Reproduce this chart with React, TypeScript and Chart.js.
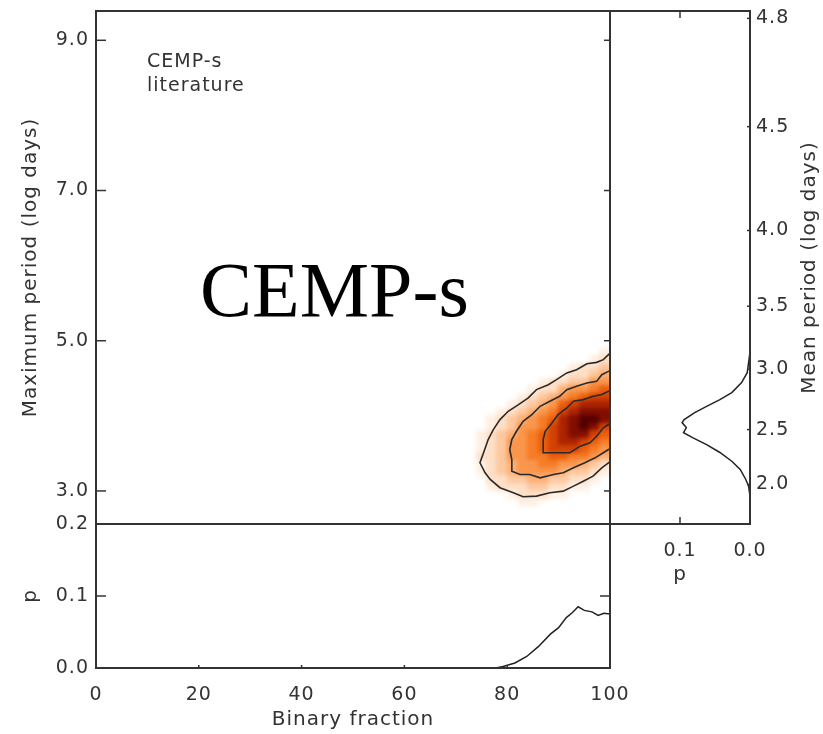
import React, { useEffect, useRef } from 'react';
import { Chart, registerables } from 'chart.js';

Chart.register(...registerables);
Chart.defaults.font.family = '"DejaVu Sans", sans-serif';
Chart.defaults.color = '#333';

const W = 823;
const H = 734;

// ---- axis ticks / labels ----
const maxPeriodTicks = [3, 5, 7, 9];
const maxPeriodRange = [2.56, 9.39];
const meanPeriodTickLabels = ['2.0', '2.5', '3.0', '3.5', '4.0', '4.5', '4.8'];
const meanPeriodTickAtMax = [3.086, 3.817, 4.621, 5.459, 6.468, 7.85, 9.292];
const pTicksRight = [0, 0.1];
const pTicksBottom = [0, 0.1, 0.2];
const fracTicks = [0, 20, 40, 60, 80, 100];

// ---- 2D density (binary fraction x log Pmax), levels 0..11 ----
const heatFrac = [75, 77, 79, 81, 83, 85, 87, 89, 91, 93, 95, 97, 99];
const heatLogP = [4.85, 4.75, 4.65, 4.55, 4.45, 4.35, 4.25, 4.15, 4.05, 3.95, 3.85, 3.75, 3.65, 3.55, 3.45, 3.35, 3.25, 3.15, 3.05, 2.95, 2.85];
const heatLevel = [
  [0, 0, 0, 0, 0, 0, 0, 0, 0, 0, 0, 0, 1],
  [0, 0, 0, 0, 0, 0, 0, 0, 0, 0, 0, 1, 2],
  [0, 0, 0, 0, 0, 0, 0, 0, 0, 1, 2, 2, 3],
  [0, 0, 0, 0, 0, 0, 0, 0, 1, 2, 2, 3, 4],
  [0, 0, 0, 0, 0, 0, 1, 2, 2, 3, 3, 5, 5],
  [0, 0, 0, 0, 0, 1, 2, 2, 4, 5, 5, 6, 7],
  [0, 0, 0, 0, 1, 2, 3, 4, 5, 6, 7, 8, 8],
  [0, 0, 0, 1, 2, 3, 4, 5, 7, 8, 9, 9, 9],
  [0, 0, 1, 2, 3, 4, 5, 6, 8, 9, 10, 10, 10],
  [0, 1, 2, 3, 4, 5, 6, 7, 9, 10, 11, 11, 10],
  [0, 1, 2, 3, 5, 5, 6, 8, 9, 10, 11, 10, 8],
  [1, 2, 3, 4, 5, 6, 7, 8, 9, 10, 10, 8, 7],
  [1, 2, 3, 5, 5, 6, 7, 8, 9, 9, 8, 7, 6],
  [1, 2, 3, 5, 5, 6, 7, 8, 8, 8, 7, 6, 5],
  [2, 2, 3, 5, 5, 6, 6, 7, 7, 6, 6, 5, 4],
  [1, 2, 3, 4, 5, 5, 6, 6, 5, 5, 4, 3, 2],
  [1, 2, 3, 4, 5, 5, 5, 5, 4, 3, 3, 2, 1],
  [0, 2, 2, 3, 3, 4, 4, 3, 3, 2, 2, 1, 0],
  [0, 1, 2, 2, 2, 3, 3, 2, 2, 1, 1, 0, 0],
  [0, 0, 0, 1, 2, 2, 2, 1, 1, 0, 0, 0, 0],
  [0, 0, 0, 0, 1, 1, 0, 0, 0, 0, 0, 0, 0],
];
const heatColors = [
  'rgba(0,0,0,0)', '#fff0e4', '#fedfc6', '#fdc89f', '#fcb077', '#fa964c',
  '#f67c26', '#ea5f0e', '#d24204', '#ac2400', '#820e00', '#550000',
];

// ---- contour lines ----
const outerFrac = [100, 99.7, 98.7, 97.4, 95.5, 93.5, 91.6, 89.6, 88.0, 85.7, 84.1, 82.2, 80.2, 78.6, 77.3, 76.3, 75.4, 74.7, 75.7, 76.7, 78.6, 81.2, 83.1, 85.7, 88.3, 90.9, 92.9, 94.8, 96.7, 98.4, 99.7, 100];
const outerLogP = [4.83, 4.814, 4.748, 4.712, 4.694, 4.615, 4.571, 4.482, 4.415, 4.349, 4.239, 4.15, 4.061, 3.95, 3.817, 3.684, 3.508, 3.375, 3.242, 3.153, 3.043, 2.976, 2.923, 2.931, 2.976, 2.998, 3.064, 3.13, 3.197, 3.308, 3.375, 3.39];
const middleFrac = [100, 99.7, 98.4, 97.4, 95.5, 93.5, 91.6, 90.2, 88.3, 86.4, 84.8, 83.1, 81.8, 80.9, 80.5, 80.9, 80.9, 82.5, 84.4, 86.4, 89.0, 90.9, 92.9, 95.1, 97.1, 98.7, 99.7, 100];
const middleLogP = [4.6, 4.592, 4.548, 4.459, 4.438, 4.393, 4.349, 4.26, 4.194, 4.127, 4.017, 3.928, 3.795, 3.684, 3.551, 3.419, 3.263, 3.219, 3.219, 3.175, 3.219, 3.242, 3.308, 3.375, 3.441, 3.508, 3.551, 3.56];
const innerFrac = [100, 99.7, 98.4, 96.8, 94.8, 92.9, 91.6, 89.9, 88.7, 87.4, 87.0, 87.0, 89.6, 92.2, 94.2, 96.1, 97.4, 98.7, 99.7, 100];
const innerLogP = [4.33, 4.326, 4.283, 4.26, 4.216, 4.194, 4.105, 4.017, 3.906, 3.795, 3.684, 3.508, 3.508, 3.508, 3.596, 3.64, 3.728, 3.84, 3.884, 3.89];

// ---- marginal distributions ----
const bottomFrac = [0, 76, 78, 79.2, 81.5, 83.8, 86.1, 88.4, 90.0, 91.5, 92.7, 93.8, 95.0, 96.5, 97.7, 98.8, 100];
const bottomP = [0, 0, 0.0005, 0.002, 0.007, 0.016, 0.03, 0.047, 0.056, 0.07, 0.077, 0.085, 0.08, 0.078, 0.073, 0.076, 0.075];
const rightLogP = [9.39, 4.85, 4.708, 4.575, 4.442, 4.309, 4.216, 4.127, 4.043, 3.95, 3.91, 3.844, 3.777, 3.711, 3.618, 3.512, 3.396, 3.286, 3.153, 3.064, 2.931, 2.56];
const rightP = [0, 0, 0.002, 0.004, 0.012, 0.026, 0.043, 0.062, 0.079, 0.094, 0.097, 0.091, 0.095, 0.082, 0.062, 0.043, 0.026, 0.014, 0.006, 0.002, 0, 0];

const pts = (xs: number[], ys: number[]) => xs.map((x, i) => ({ x, y: ys[i] }));

const lineDs = (data: any[], width = 1.5, color = '#222') => ({
  data,
  showLine: true,
  borderColor: color,
  borderWidth: width,
  pointRadius: 0,
  tension: 0,
  fill: false,
});

const fixSize = (w?: number, h?: number) => (s: any) => {
  if (w !== undefined) s.width = w;
  if (h !== undefined) s.height = h;
  s.paddingTop = 0;
  s.paddingBottom = 0;
  s.paddingLeft = 0;
  s.paddingRight = 0;
};

const spacingPlugin = {
  id: 'spacing',
  beforeDraw(chart: any) {
    chart.ctx.letterSpacing = '1px';
  },
};

const framePlugin = {
  id: 'frame',
  afterDatasetsDraw(chart: any, _args: any, opts: any) {
    const { ctx, chartArea: a } = chart;
    ctx.save();
    ctx.strokeStyle = '#333';
    ctx.lineWidth = 2;
    ctx.strokeRect(a.left, a.top, a.right - a.left, a.bottom - a.top);
    ctx.lineWidth = 1.5;
    for (const t of opts.marks || []) {
      const s = chart.scales[t.scale];
      for (const v of t.values) {
        const p = s.getPixelForValue(v);
        ctx.beginPath();
        if (t.side === 'left') { ctx.moveTo(a.left, p); ctx.lineTo(a.left + t.len, p); }
        if (t.side === 'right') { ctx.moveTo(a.right, p); ctx.lineTo(a.right - t.len, p); }
        if (t.side === 'top') { ctx.moveTo(p, a.top); ctx.lineTo(p, a.top + t.len); }
        if (t.side === 'bottom') { ctx.moveTo(p, a.bottom); ctx.lineTo(p, a.bottom - t.len); }
        ctx.stroke();
      }
    }
    ctx.restore();
  },
};

const heatPlugin = {
  id: 'heat',
  beforeDatasetsDraw(chart: any) {
    const { ctx, chartArea: a, scales } = chart;
    const xs = scales.x;
    const ys = scales.y;
    const off = document.createElement('canvas');
    off.width = W;
    off.height = H;
    const o = off.getContext('2d') as CanvasRenderingContext2D;
    const last = heatFrac.length - 1;
    for (let r = 0; r < heatLogP.length; r++) {
      for (let c = 0; c < heatFrac.length; c++) {
        const lev = heatLevel[r][c];
        if (!lev) continue;
        const x0 = Math.floor(xs.getPixelForValue(heatFrac[c] - 1));
        const x1 = Math.ceil(xs.getPixelForValue(heatFrac[c] + 1 + (c === last ? 2 : 0)));
        const y0 = Math.floor(ys.getPixelForValue(heatLogP[r] + 0.05));
        const y1 = Math.ceil(ys.getPixelForValue(heatLogP[r] - 0.05));
        o.fillStyle = heatColors[lev];
        o.fillRect(x0, y0, x1 - x0, y1 - y0);
      }
    }
    ctx.save();
    ctx.beginPath();
    ctx.rect(a.left, a.top, a.right - a.left, a.bottom - a.top);
    ctx.clip();
    ctx.filter = 'blur(2px)';
    ctx.drawImage(off, 0, 0);
    ctx.restore();
  },
};

const mainTextPlugin = {
  id: 'mainText',
  afterDraw(chart: any) {
    const { ctx } = chart;
    ctx.save();
    ctx.letterSpacing = '1px';
    ctx.fillStyle = '#333';
    ctx.font = '19px "DejaVu Sans", sans-serif';
    ctx.textAlign = 'left';
    ctx.textBaseline = 'alphabetic';
    ctx.fillText('CEMP-s', 147, 67);
    ctx.fillText('literature', 147, 91);
    ctx.letterSpacing = '0px';
    ctx.fillStyle = '#000';
    ctx.font = '78px "Liberation Serif", serif';
    ctx.fillText('CEMP-s', 200, 316);
    ctx.restore();
  },
};

const rightTitlePlugin = {
  id: 'rightTitle',
  afterDraw(chart: any) {
    const { ctx, chartArea: a } = chart;
    ctx.save();
    ctx.letterSpacing = '1px';
    ctx.fillStyle = '#333';
    ctx.font = '20px "DejaVu Sans", sans-serif';
    ctx.translate(815, (a.top + a.bottom) / 2);
    ctx.rotate(-Math.PI / 2);
    ctx.textAlign = 'center';
    ctx.textBaseline = 'alphabetic';
    ctx.fillText('Mean period (log days)', 0, 0);
    ctx.restore();
  },
};

const hiddenGrid = { display: false, drawTicks: false };
const noBorder = { display: false };
const tickFont = { size: 19 };
const titleFont = { size: 20 };

export default function App() {
  const mainRef = useRef<HTMLCanvasElement>(null);
  const bottomRef = useRef<HTMLCanvasElement>(null);
  const rightRef = useRef<HTMLCanvasElement>(null);

  useEffect(() => {
    const common = {
      responsive: false,
      animation: false as const,
      events: [] as any[],
    };

    const main = new Chart(mainRef.current as HTMLCanvasElement, {
      type: 'scatter',
      data: {
        datasets: [
          lineDs(pts(outerFrac, outerLogP), 1.6, '#2a2a2a'),
          lineDs(pts(middleFrac, middleLogP), 1.6, '#2a2a2a'),
          lineDs(pts(innerFrac, innerLogP), 1.6, '#2a2a2a'),
        ] as any,
      },
      options: {
        ...common,
        layout: { padding: { left: 0, top: 11, right: 213, bottom: 210 } },
        plugins: {
          legend: { display: false },
          tooltip: { enabled: false },
          frame: {
            marks: [
              { scale: 'y', values: maxPeriodTicks, side: 'left', len: 10 },
              { scale: 'y', values: maxPeriodTicks, side: 'right', len: 6 },
            ],
          },
        } as any,
        scales: {
          x: { type: 'linear', min: 0, max: 100, display: false },
          y: {
            type: 'linear',
            position: 'left',
            min: maxPeriodRange[0],
            max: maxPeriodRange[1],
            grid: hiddenGrid,
            border: noBorder,
            afterBuildTicks: (s: any) => { s.ticks = maxPeriodTicks.map((v) => ({ value: v })); },
            afterFit: fixSize(96, undefined),
            ticks: { padding: 7, font: tickFont, color: '#333', callback: (v: any) => Number(v).toFixed(1) },
            title: { display: true, text: 'Maximum period (log days)', font: titleFont, color: '#333', padding: { top: 19, bottom: 0 } },
          },
        } as any,
      },
      plugins: [spacingPlugin, heatPlugin, framePlugin, mainTextPlugin],
    });

    const bottom = new Chart(bottomRef.current as HTMLCanvasElement, {
      type: 'scatter',
      data: { datasets: [lineDs(pts(bottomFrac, bottomP))] as any },
      options: {
        ...common,
        layout: { padding: { left: 0, top: 524, right: 213, bottom: 0 } },
        plugins: {
          legend: { display: false },
          tooltip: { enabled: false },
          frame: {
            marks: [
              { scale: 'y', values: [0.1], side: 'left', len: 10 },
              { scale: 'y', values: [0.1], side: 'right', len: 10 },
              { scale: 'x', values: [20, 40, 60, 80], side: 'bottom', len: 3 },
            ],
          },
        } as any,
        scales: {
          x: {
            type: 'linear',
            position: 'bottom',
            min: 0,
            max: 100,
            grid: hiddenGrid,
            border: noBorder,
            afterBuildTicks: (s: any) => { s.ticks = fracTicks.map((v) => ({ value: v })); },
            afterFit: fixSize(undefined, 66),
            ticks: { padding: 16, font: tickFont, color: '#333', maxRotation: 0, autoSkip: false, callback: (v: any) => String(v) },
            title: { display: true, text: 'Binary fraction', font: titleFont, color: '#333', padding: { top: 0, bottom: 2 } },
          },
          y: {
            type: 'linear',
            position: 'left',
            min: 0,
            max: 0.2,
            grid: hiddenGrid,
            border: noBorder,
            afterBuildTicks: (s: any) => { s.ticks = pTicksBottom.map((v) => ({ value: v })); },
            afterFit: fixSize(96, undefined),
            ticks: { padding: 7, font: tickFont, color: '#333', callback: (v: any) => Number(v).toFixed(1) },
            title: { display: true, text: 'p', font: titleFont, color: '#333', padding: { top: 19, bottom: 0 } },
          },
        } as any,
      },
      plugins: [spacingPlugin, framePlugin],
    });

    const right = new Chart(rightRef.current as HTMLCanvasElement, {
      type: 'scatter',
      data: { datasets: [lineDs(pts(rightP, rightLogP))] as any },
      options: {
        ...common,
        layout: { padding: { left: 610, top: 11, right: 0, bottom: 140 } },
        plugins: {
          legend: { display: false },
          tooltip: { enabled: false },
          frame: {
            marks: [
              { scale: 'x', values: [0.1], side: 'bottom', len: 7 },
              { scale: 'x', values: [0.1], side: 'top', len: 7 },
              { scale: 'y', values: meanPeriodTickAtMax, side: 'right', len: 3 },
            ],
          },
        } as any,
        scales: {
          x: {
            type: 'linear',
            position: 'bottom',
            reverse: true,
            min: 0,
            max: 0.2,
            grid: hiddenGrid,
            border: noBorder,
            afterBuildTicks: (s: any) => { s.ticks = pTicksRight.map((v) => ({ value: v })); },
            afterFit: fixSize(undefined, 70),
            ticks: { padding: 16, font: tickFont, color: '#333', maxRotation: 0, autoSkip: false, callback: (v: any) => Number(v).toFixed(1) },
            title: { display: true, text: 'p', font: titleFont, color: '#333', padding: { top: 0, bottom: 7 } },
          },
          y: {
            type: 'linear',
            position: 'right',
            min: maxPeriodRange[0],
            max: maxPeriodRange[1],
            grid: hiddenGrid,
            border: noBorder,
            afterBuildTicks: (s: any) => { s.ticks = meanPeriodTickAtMax.map((v) => ({ value: v })); },
            afterFit: fixSize(73, undefined),
            ticks: { padding: 6, font: tickFont, color: '#333', autoSkip: false, callback: (_v: any, i: number) => meanPeriodTickLabels[i] },
          },
        } as any,
      },
      plugins: [spacingPlugin, framePlugin, rightTitlePlugin],
    });

    return () => {
      main.destroy();
      bottom.destroy();
      right.destroy();
    };
  }, []);

  const cs: React.CSSProperties = { position: 'absolute', left: 0, top: 0 };
  return (
    <div style={{ position: 'absolute', left: 0, top: 0, width: W, height: H, background: '#fff', overflow: 'hidden' }}>
      <canvas ref={mainRef} width={W} height={H} style={cs} />
      <canvas ref={bottomRef} width={W} height={H} style={cs} />
      <canvas ref={rightRef} width={W} height={H} style={cs} />
    </div>
  );
}
